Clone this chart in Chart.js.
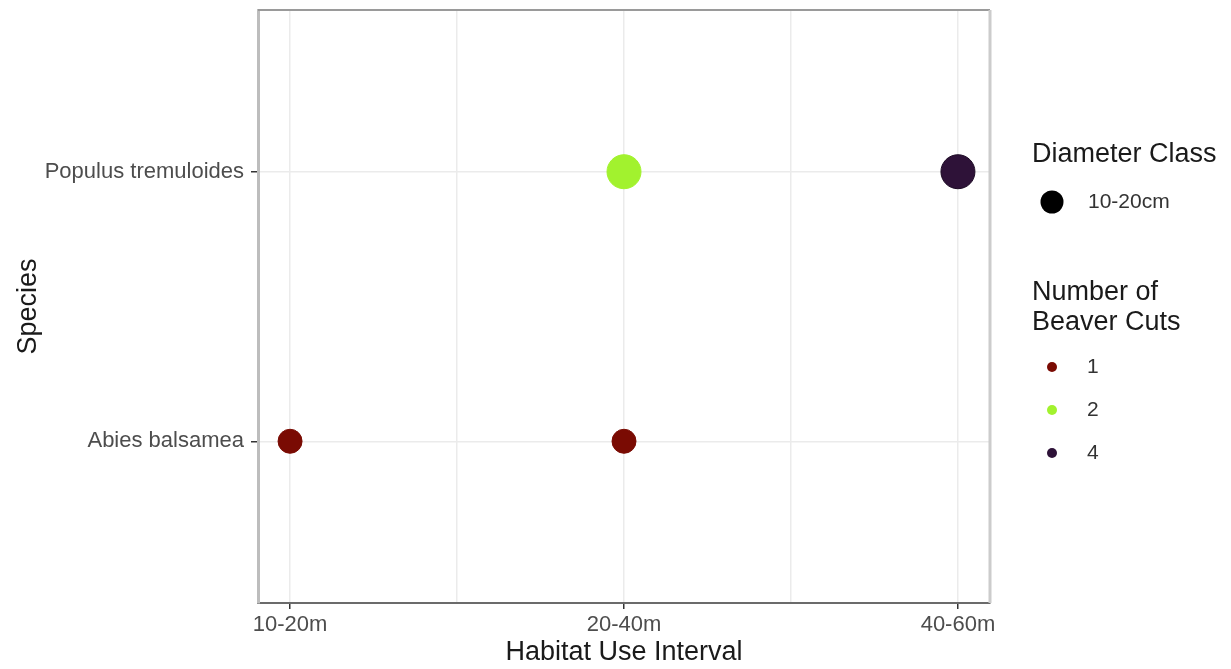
<!DOCTYPE html>
<html>
<head>
<meta charset="utf-8">
<script src="https://cdn.jsdelivr.net/npm/chart.js@4.4.1/dist/chart.umd.min.js"></script>
<style>
  html, body { margin: 0; padding: 0; background: #fff; }
  #wrap { width: 1231px; height: 669px; position: relative; }
</style>
</head>
<body>
<div id="wrap"><canvas id="chart"></canvas></div>
<script>
// categories
const intervals = ['10-20m', '20-40m', '40-60m'];
const species = ['Abies balsamea', 'Populus tremuloides'];

// observations
const obsSpecies = ['Populus tremuloides', 'Populus tremuloides', 'Abies balsamea', 'Abies balsamea'];
const obsInterval = ['20-40m', '40-60m', '10-20m', '20-40m'];
const obsCuts = [2, 4, 1, 1];

// legend
const cutLevels = [1, 2, 4];
const diameterClasses = ['10-20cm'];

// styles
const cutColors = { 1: '#7a0b03', 2: '#a2f22e', 4: '#2e1238' };
const cutBorders = { 1: '#7a0b03', 2: '#a2f22e', 4: '#1c0a24' };
const radiusFor = (cuts) => cuts >= 2 ? 17 : 12;
const FONT = '"Liberation Sans", Arial, sans-serif';

const datasets = cutLevels.map(level => {
    const pts = [];
    obsCuts.forEach((c, i) => {
        if (c === level) {
            pts.push({ x: intervals.indexOf(obsInterval[i]), y: species.indexOf(obsSpecies[i]) });
        }
    });
    return {
        label: String(level),
        data: pts,
        backgroundColor: cutColors[level],
        borderColor: cutBorders[level],
        borderWidth: 1,
        pointRadius: radiusFor(level),
        pointHoverRadius: radiusFor(level)
    };
});

const panelBorder = {
    id: 'panelBorder',
    afterDraw(chart) {
        const { ctx, chartArea: a } = chart;
        ctx.save();
        ctx.lineWidth = 2;
        ctx.strokeStyle = '#9a9a9a';
        ctx.beginPath();
        ctx.moveTo(a.left, a.top);
        ctx.lineTo(a.right, a.top);
        ctx.stroke();
        ctx.lineWidth = 3;
        ctx.strokeStyle = '#cccccc';
        ctx.beginPath();
        ctx.moveTo(a.right, a.top);
        ctx.lineTo(a.right, a.bottom);
        ctx.stroke();
        ctx.restore();
    }
};

const sideLegend = {
    id: 'sideLegend',
    afterDraw(chart) {
        const ctx = chart.ctx;
        ctx.save();
        ctx.textBaseline = 'middle';
        ctx.textAlign = 'left';

        // Diameter Class
        ctx.fillStyle = '#1a1a1a';
        ctx.font = `27px ${FONT}`;
        ctx.fillText('Diameter Class', 1032, 155);
        diameterClasses.forEach((d, i) => {
            const y = 202 + i * 42;
            ctx.fillStyle = '#000';
            ctx.beginPath();
            ctx.arc(1052, y, 11.5, 0, Math.PI * 2);
            ctx.fill();
            ctx.fillStyle = '#333';
            ctx.font = `21px ${FONT}`;
            ctx.fillText(d, 1088, y);
        });

        // Number of Beaver Cuts
        ctx.fillStyle = '#1a1a1a';
        ctx.font = `27px ${FONT}`;
        ctx.fillText('Number of', 1032, 293);
        ctx.fillText('Beaver Cuts', 1032, 323);
        cutLevels.forEach((level, i) => {
            const y = 367 + i * 43;
            ctx.fillStyle = cutColors[level];
            ctx.beginPath();
            ctx.arc(1052, y, 5, 0, Math.PI * 2);
            ctx.fill();
            ctx.fillStyle = '#333';
            ctx.font = `21px ${FONT}`;
            ctx.fillText(String(level), 1087, y);
        });
        ctx.restore();
    }
};

new Chart(document.getElementById('chart'), {
    type: 'scatter',
    data: { datasets },
    options: {
        responsive: true,
        maintainAspectRatio: false,
        animation: false,
        layout: { autoPadding: false, padding: { top: 10, right: 241, bottom: 0, left: 0 } },
        plugins: {
            legend: { display: false },
            tooltip: { enabled: false }
        },
        scales: {
            x: {
                type: 'linear',
                min: -0.096,
                max: 2.096,
                afterBuildTicks: (scale) => {
                    scale.ticks = [0, 0.5, 1, 1.5, 2].map(v => ({ value: v }));
                },
                afterFit: (scale) => {
                    scale.height = 66;
                    scale.paddingLeft = 0;
                    scale.paddingRight = 0;
                },
                ticks: {
                    autoSkip: false,
                    maxRotation: 0,
                    padding: 3,
                    color: '#4d4d4d',
                    font: { family: FONT, size: 22 },
                    callback: (value) => Number.isInteger(value) ? intervals[value] : ''
                },
                grid: {
                    color: '#ebebeb',
                    lineWidth: 1.5,
                    tickLength: 6,
                    tickWidth: 1.5,
                    tickColor: (c) => (c.tick && Number.isInteger(c.tick.value)) ? '#333' : 'rgba(0,0,0,0)'
                },
                border: { display: true, color: '#6b6b6b', width: 2 },
                title: {
                    display: true,
                    text: 'Habitat Use Interval',
                    color: '#1a1a1a',
                    font: { family: FONT, size: 27 },
                    padding: { top: 0, bottom: 0 }
                }
            },
            y: {
                type: 'linear',
                min: -0.6,
                max: 1.6,
                afterBuildTicks: (scale) => {
                    scale.ticks = [0, 1].map(v => ({ value: v }));
                },
                afterFit: (scale) => {
                    scale.width = 258;
                    scale.paddingTop = 0;
                    scale.paddingBottom = 0;
                },
                ticks: {
                    autoSkip: false,
                    padding: 7,
                    color: '#4d4d4d',
                    font: { family: FONT, size: 22 },
                    callback: (value) => species[value]
                },
                grid: {
                    color: '#ebebeb',
                    lineWidth: 1.5,
                    tickLength: 7,
                    tickWidth: 1.5,
                    tickColor: '#333'
                },
                border: { display: true, color: '#bdbdbd', width: 3 },
                title: {
                    display: true,
                    text: 'Species',
                    color: '#1a1a1a',
                    font: { family: FONT, size: 27 },
                    padding: { top: 12, bottom: 0 }
                }
            }
        }
    },
    plugins: [panelBorder, sideLegend]
});
</script>
</body>
</html>
